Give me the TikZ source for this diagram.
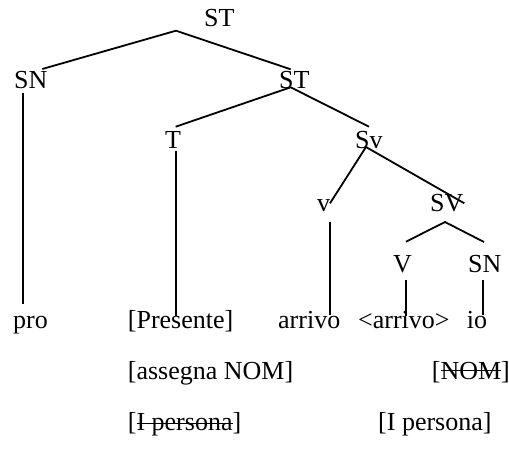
\documentclass[tikz,border=0pt]{standalone}
\usepackage{fontspec}
\setmainfont{Liberation Serif}
\newlength\strklen
\newcommand{\strk}[2][0.26em]{\settowidth{\strklen}{#2}\rlap{\rule[#1]{\strklen}{1.3pt}}#2}
\begin{document}
\begin{tikzpicture}[x=1pt,y=-1pt,
  lbl/.style={anchor=base west,inner sep=0pt,font=\fontsize{26}{31}\selectfont},
  branch/.style={line width=1.8pt}]
\useasboundingbox (0,0) rectangle (509,466);
% labels
\node[lbl] (st1) at (204,26) {ST};
\node[lbl] (sn1) at (14,88) {SN};
\node[lbl] (st2) at (279,88) {ST};
\node[lbl] (t) at (165,148) {T};
\node[lbl] (sv1) at (355,148) {Sv};
\node[lbl] (vsmall) at (317,211.7) {v};
\node[lbl] (sv2) at (430,211.7) {SV};
\node[lbl] (vbig) at (393,272) {V};
\node[lbl] (sn2) at (468,272) {SN};
\node[lbl] (pro) at (13,328) {pro};
\node[lbl] (pres) at (127.7,328) {[Presente]};
\node[lbl] (arr1) at (278,328) {arrivo};
\node[lbl] (arr2) at (358,328) {<arrivo>};
\node[lbl] (io) at (466.7,328) {io};
\node[lbl] (nom1) at (127.7,379) {[assegna NOM]};
\node[lbl] (nom2) at (431.7,379) {[\strk[0.3em]{NOM}]};
\node[lbl] (pers1) at (127.7,430) {[\strk[0.22em]{I persona}]};
\node[lbl] (pers2) at (378,430) {[I persona]};
% branch points
\coordinate (a1) at (176,30.7);
\coordinate (a1l) at (42.3,69);
\coordinate (a1r) at (290.7,69.3);
\coordinate (snt) at (22.7,92.7);
\coordinate (snb) at (22.7,304);
\coordinate (a2) at (290.7,87.3);
\coordinate (a2l) at (175.7,126.7);
\coordinate (a2r) at (369,126.7);
\coordinate (tt) at (176,150.7);
\coordinate (tb) at (176,316);
\coordinate (a3) at (366,147);
\coordinate (a3l) at (330,203.3);
\coordinate (a3r) at (464.3,203.3);
\coordinate (vt) at (330,221.7);
\coordinate (vb) at (330,315);
\coordinate (a4) at (445,222);
\coordinate (a4l) at (406,241.7);
\coordinate (a4r) at (484,242);
\coordinate (Vt) at (406,280);
\coordinate (Vb) at (406,316);
\coordinate (nt) at (483.3,280);
\coordinate (nb) at (483.3,315);
% branches
\draw[branch] (a1l) -- (a1) -- (a1r);
\draw[branch] (snt) -- (snb);
\draw[branch] (a2l) -- (a2) -- (a2r);
\draw[branch] (tt) -- (tb);
\draw[branch] (a3l) -- (a3) -- (a3r);
\draw[branch] (vt) -- (vb);
\draw[branch] (a4l) -- (a4) -- (a4r);
\draw[branch] (Vt) -- (Vb);
\draw[branch] (nt) -- (nb);
\end{tikzpicture}
\end{document}
